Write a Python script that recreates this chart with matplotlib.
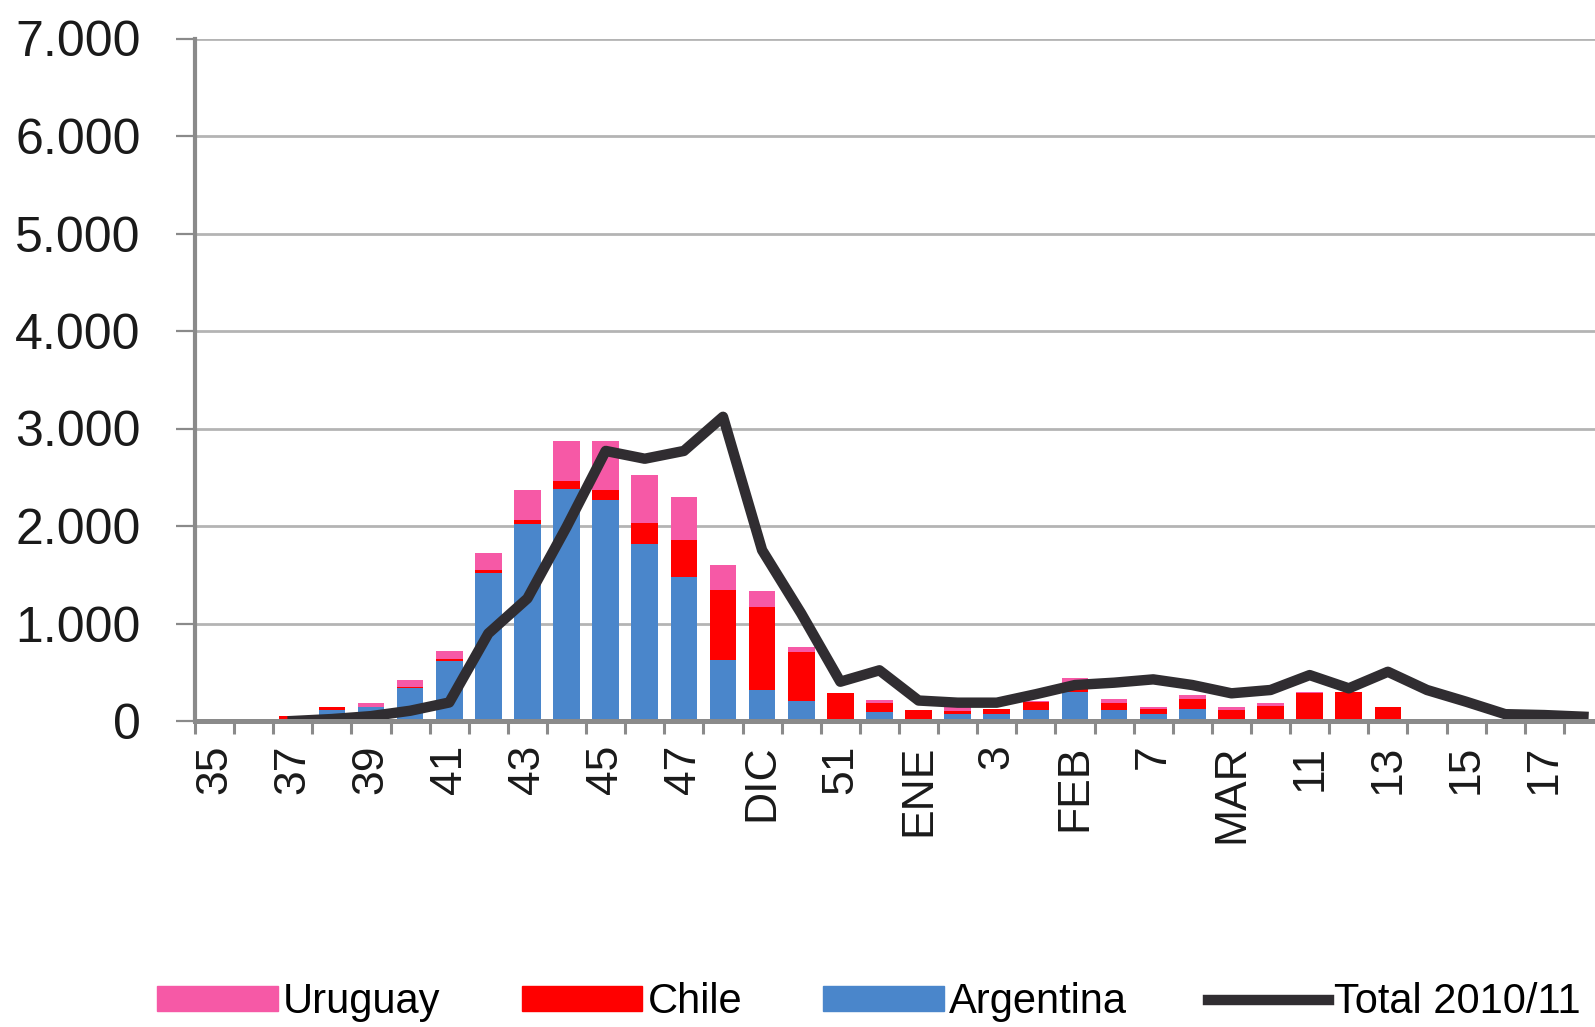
import matplotlib
matplotlib.use('Agg')

import numpy as np
import matplotlib.pyplot as plt
from matplotlib import font_manager
from matplotlib.patches import Patch
from matplotlib.lines import Line2D

# weeks 35..52 of 2010 then 1..18 of 2011
weeks = list(range(35, 53)) + list(range(1, 19))
tick_labels = ['35', '37', '39', '41', '43', '45', '47', 'DIC', '51',
               'ENE', '3', 'FEB', '7', 'MAR', '11', '13', '15', '17']

argentina = [0, 0, 0, 110, 145, 340, 620, 1520, 2020, 2380, 2270, 1820,
             1480, 630, 320, 205, 0, 90,
             0, 75, 70, 110, 300, 113, 70, 120, 0, 0, 0, 0, 0, 0, 0, 0, 0, 0]
chile = [0, 0, 50, 30, 0, 10, 20, 30, 40, 85, 95, 215,
         380, 710, 850, 505, 290, 95,
         110, 30, 50, 80, 80, 72, 55, 105, 115, 150, 285, 300, 147, 0, 0, 0, 0, 0]
uruguay = [0, 0, 0, 0, 40, 70, 80, 170, 310, 410, 505, 490,
           435, 265, 165, 50, 0, 35,
           0, 40, 0, 20, 65, 40, 20, 40, 30, 35, 15, 0, 0, 0, 0, 0, 0, 0]
total = [np.nan, np.nan, 0, 20, 50, 105, 190, 898, 1257, 1990, 2770, 2690,
         2770, 3120, 1752, 1103, 403, 520,
         210, 188, 188, 275, 369, 393, 427, 369, 284, 318, 471, 335, 505, 318,
         198, 70, 61, 44]

BLUE = '#4A86CB'
RED = '#FF0000'
PINK = '#F659A6'
LINE = '#302D31'
GREY = '#8A8A8A'


def pick_font(names):
    have = set(f.name for f in font_manager.fontManager.ttflist)
    for n in names:
        if n in have:
            return n
    return 'DejaVu Sans'


def main():
    font = pick_font(['Liberation Sans', 'Arial'])
    plt.rcParams['font.family'] = [font, 'DejaVu Sans']

    W, H = 1595, 1027
    fig = plt.figure(figsize=(W / 100, H / 100), dpi=100)
    # plot area runs a bit past the right edge (the original is cropped)
    ax = fig.add_axes([195 / W, 1 - 721 / H, (1603 - 195) / W, (721 - 38.5) / H])

    x = np.arange(len(weeks))
    arg = np.array(argentina)
    chi = np.array(chile)
    uru = np.array(uruguay)

    ax.bar(x, arg, width=0.68, color=BLUE, zorder=3)
    ax.bar(x, chi, width=0.68, bottom=arg, color=RED, zorder=3)
    ax.bar(x, uru, width=0.68, bottom=arg + chi, color=PINK, zorder=3)
    ax.plot(x, total, color=LINE, lw=7.5, zorder=4)

    ax.set_xlim(-0.5, len(weeks) - 0.5)
    ax.set_ylim(0, 7000)

    yt = np.arange(0, 7001, 1000)
    ax.set_yticks(yt)
    ax.set_yticklabels(['{:,}'.format(v).replace(',', '.') for v in yt],
                       fontsize=36, color='#1a1a1a')
    ax.tick_params(axis='y', length=14, width=1.6, color=GREY, pad=25)

    ax.set_xticks(x[::2])
    ax.set_xticklabels(tick_labels, rotation=90, fontsize=32, color='#1a1a1a',
                       va='top', ha='center')
    ax.set_xticks(np.arange(-0.5, len(weeks), 1), minor=True)
    ax.tick_params(axis='x', which='major', length=0, pad=17)
    ax.tick_params(axis='x', which='minor', length=9, width=2.2, color=GREY)

    ax.yaxis.grid(True, color='#B4B4B4', lw=2.0, zorder=0)
    ax.set_axisbelow(True)
    for s in ['top', 'right']:
        ax.spines[s].set_visible(False)
    ax.spines['left'].set_color(GREY)
    ax.spines['left'].set_linewidth(3.0)
    ax.spines['bottom'].set_color(GREY)
    ax.spines['bottom'].set_linewidth(3.6)
    ax.spines['bottom'].set_zorder(5)

    handles = [Patch(color=PINK), Patch(color=RED), Patch(color=BLUE),
               Line2D([], [], color=LINE, lw=7.5)]
    labels = ['Uruguay', 'Chile', 'Argentina', 'Total 2010/11']
    fig.legend(handles, labels, loc='center left', bbox_to_anchor=(157 / W, 0.024),
               ncol=4, frameon=False, fontsize=30, handlelength=2.9,
               handleheight=0.55, handletextpad=0.12, columnspacing=1.95,
               borderpad=0, borderaxespad=0)

    fig.savefig('out.png', dpi=100)
    plt.close(fig)


if __name__ == '__main__':
    main()
